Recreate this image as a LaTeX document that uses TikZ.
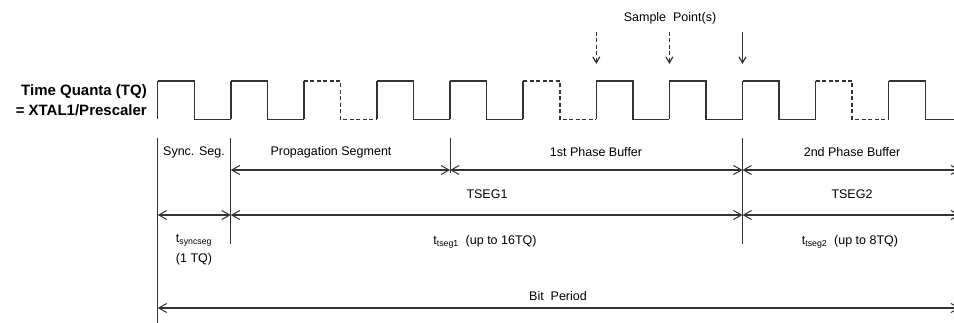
\documentclass[tikz,border=0pt]{standalone}
\usepackage{fontspec}
\setmainfont{Liberation Sans}
\usetikzlibrary{arrows.meta}
\definecolor{ink}{HTML}{333333}
\begin{document}
\begin{tikzpicture}[x=1pt,y=-1pt,
  wave/.style={draw=ink,line width=1.5pt,line join=miter},
  wavedash/.style={wave,dash pattern=on 4pt off 2.5pt},
  guide/.style={draw=ink,line width=0.9pt},
  dim/.style={draw=ink,line width=1.3pt,{Straight Barb[length=8pt,width=9pt,line width=1pt]}-{Straight Barb[length=8pt,width=9pt,line width=1pt]}},
  sample/.style={draw=ink,line width=1.2pt,-{Straight Barb[length=6pt,width=7pt,line width=1.2pt]}},
  lbl/.style={inner sep=0pt,font=\fontsize{12.5}{14}\selectfont,text=black},
  big/.style={inner sep=0pt,font=\fontsize{15}{20}\selectfont\bfseries,text=black,align=right}]
\clip (0,0) rectangle (954,323);
\def\p{73.1}
\def\xo{157.7}
% waveform
\foreach \k/\st in {0/wave,1/wave,2/wavedash,3/wave,4/wave,5/wavedash,6/wave,7/wave,8/wave,9/wavedash,10/wave}{
  \pgfmathsetmacro\xa{\xo+\k*\p}
  \pgfmathsetmacro\xb{\xa+\p/2}
  \pgfmathsetmacro\xc{\xa+\p}
  \draw[wave] (\xa,119.5) -- (\xa,81);
  \draw[\st] (\xa,81) -- (\xb,81) -- (\xb,119.5) -- (\xc,119.5);
}
% guide coordinates
\coordinate (v0t) at (157.7,138);
\coordinate (v0b) at (157.7,323);
\coordinate (v1t) at (230.8,138);
\coordinate (v1b) at (230.8,244);
\coordinate (v2t) at (450.1,138);
\coordinate (v2b) at (450.1,173);
\coordinate (v3t) at (742.5,138);
\coordinate (v3b) at (742.5,244);
\draw[guide] (v0t) -- (v0b);
\draw[guide] (v1t) -- (v1b);
\draw[guide] (v2t) -- (v2b);
\draw[guide] (v3t) -- (v3b);
% row 1
\coordinate (r1a) at (230.8,170);
\coordinate (r1b) at (450.1,170);
\coordinate (r1c) at (742.5,170);
\coordinate (r1d) at (960,170);
\draw[dim] (r1a) -- (r1b);
\draw[dim] (r1b) -- (r1c);
\draw[dim] (r1c) -- (r1d);
% row 2
\coordinate (r2a) at (157.7,215);
\coordinate (r2b) at (230.8,215);
\coordinate (r2c) at (742.5,215);
\coordinate (r2d) at (960,215);
\draw[dim] (r2a) -- (r2b);
\draw[dim] (r2b) -- (r2c);
\draw[dim] (r2c) -- (r2d);
% row 3
\coordinate (r3a) at (157.7,308);
\coordinate (r3b) at (960,308);
\draw[dim] (r3a) -- (r3b);
% sample points
\coordinate (s1t) at (596.3,32);
\coordinate (s1b) at (596.3,64);
\coordinate (s2t) at (669.4,32);
\coordinate (s2b) at (669.4,64);
\coordinate (s3t) at (742.5,32);
\coordinate (s3b) at (742.5,64);
\draw[sample,dash pattern=on 4pt off 2.5pt] (s1t) -- (s1b);
\draw[sample,dash pattern=on 4pt off 2.5pt] (s2t) -- (s2b);
\draw[sample] (s3t) -- (s3b);
% labels
\node[lbl] (sp) at (670,18) {Sample\ \ Point(s)};
\node[big,anchor=east] (tq) at (147,100) {Time Quanta (TQ)\\= XTAL1/Prescaler};
\node[lbl] (sync) at (194,152) {Sync. Seg.};
\node[lbl] (prop) at (331,152) {Propagation Segment};
\node[lbl] (ph1) at (596,152) {1st Phase Buffer};
\node[lbl] (ph2) at (852,152) {2nd Phase Buffer};
\node[lbl] (ts1) at (487,194) {TSEG1};
\node[lbl] (ts2) at (852,194) {TSEG2};
\node[lbl] (tsync) at (194,240) {t\textsubscript{syncseg}};
\node[lbl] (onetq) at (194,259) {(1 TQ)};
\node[lbl] (tseg1) at (485,242) {t\textsubscript{tseg1}\ \ (up to 16TQ)};
\node[lbl] (tseg2) at (850,242) {t\textsubscript{tseg2}\ \ (up to 8TQ)};
\node[lbl] (bit) at (558,296) {Bit\ \ Period};
\end{tikzpicture}
\end{document}
